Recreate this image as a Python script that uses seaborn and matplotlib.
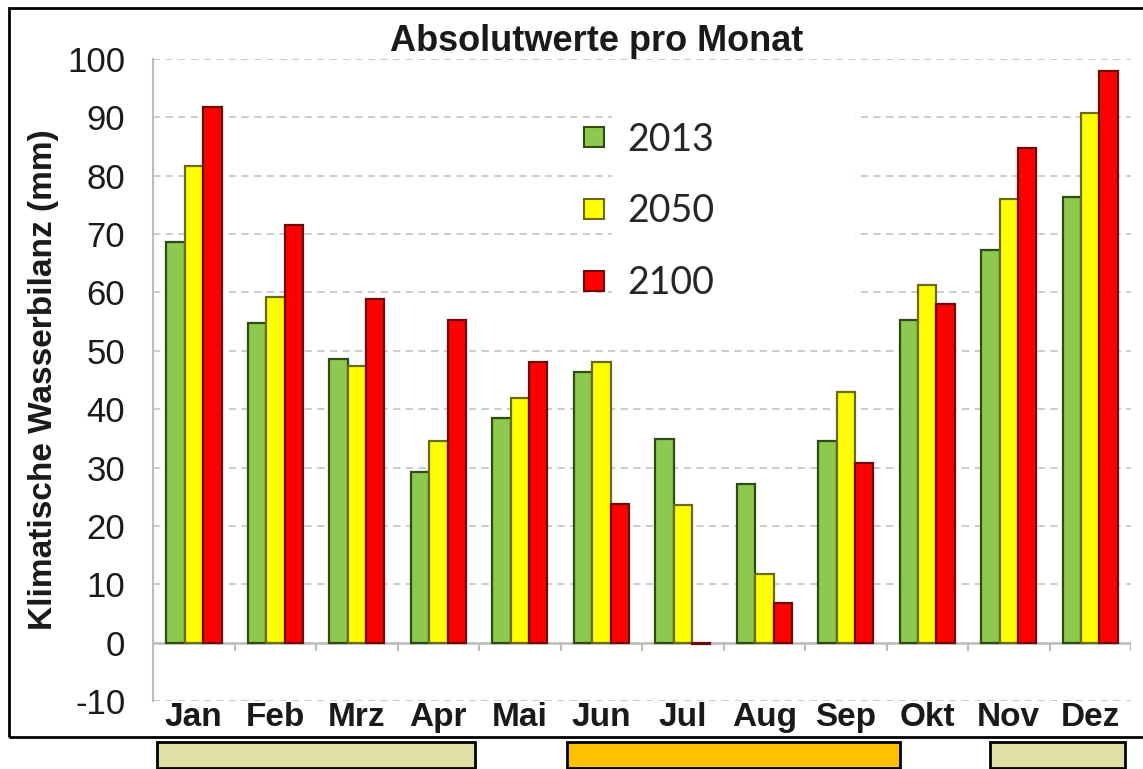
import matplotlib
matplotlib.use("Agg")
import matplotlib.pyplot as plt
import matplotlib.transforms as mtransforms
from matplotlib.patches import Rectangle
from matplotlib.lines import Line2D
import numpy as np
import pandas as pd
import seaborn as sns

# Monatswerte der klimatischen Wasserbilanz (mm)
monate = ["Jan", "Feb", "Mrz", "Apr", "Mai", "Jun",
          "Jul", "Aug", "Sep", "Okt", "Nov", "Dez"]
jahre = ["2013", "2050", "2100"]
werte_2013 = [68.7, 54.8, 48.6, 29.2, 38.5, 46.3, 34.9, 27.1, 34.6, 55.3, 67.3, 76.3]
werte_2050 = [81.7, 59.2, 47.4, 34.5, 42.0, 48.0, 23.5, 11.8, 42.9, 61.3, 76.0, 90.8]
werte_2100 = [91.7, 71.5, 58.9, 55.2, 48.0, 23.7, -0.3, 6.8, 30.8, 58.0, 84.8, 98.0]

# Jahreszeiten-Balken unter dem Diagramm (Start/Ende in Monatsindex)
saison_start = [-0.45, 4.58, 9.77]
saison_ende = [3.45, 8.67, 11.43]
saison_farben = ["#E0DFA6", "#FFC000", "#E0DFA6"]

farben = {"2013": "#8DC84F", "2050": "#FFFF00", "2100": "#FF0000"}
kanten = {"2013": "#2F4A12", "2050": "#6A6A12", "2100": "#6E0A0A"}

df = pd.DataFrame({
    "Monat": monate * 3,
    "Jahr": [j for j in jahre for _ in monate],
    "Wert": werte_2013 + werte_2050 + werte_2100,
})

sns.set_style("white")
plt.rcParams["font.family"] = ["Liberation Sans", "DejaVu Sans"]
plt.rcParams["axes.unicode_minus"] = False

fig = plt.figure(figsize=(11.43, 7.69), dpi=100)
ax = fig.add_axes([0.1339, 0.0884, 0.8556, 0.8349])

sns.barplot(data=df, x="Monat", y="Wert", hue="Jahr", order=monate,
            hue_order=jahre, palette=farben, saturation=1, width=0.68,
            errorbar=None, legend=False, ax=ax, zorder=3)
for jahr, cont in zip(jahre, ax.containers):
    for bar in cont:
        bar.set_edgecolor(kanten[jahr])
        bar.set_linewidth(1.6)

ax.set_ylim(-10, 100)
ax.set_xlim(-0.5, len(monate) - 0.5)
ax.set_yticks(np.arange(-10, 101, 10))
ax.yaxis.grid(True, linestyle=(0, (4, 3)), color="#C8C8C8", linewidth=1.3, zorder=0)
ax.xaxis.grid(False)
ax.set_axisbelow(True)

for side in ["top", "right", "bottom"]:
    ax.spines[side].set_visible(False)
ax.spines["left"].set_color("#BDBDBD")
ax.spines["left"].set_linewidth(1.5)

ax.axhline(0, color="#BDBDBD", linewidth=1.8, zorder=2)
ax.vlines(np.arange(-0.5, len(monate)), -1.4, 0, color="#BDBDBD", linewidth=1.5, zorder=2)

ax.tick_params(axis="y", length=8, color="#C8C8C8", labelsize=25, pad=12, labelcolor="#1a1a1a")
ax.tick_params(axis="x", length=0, labelsize=24, pad=1)
for lbl in ax.get_xticklabels():
    lbl.set_fontweight("bold")
    lbl.set_color("#1a1a1a")

ax.set_xlabel("")
ax.set_ylabel("Klimatische Wasserbilanz (mm)", fontsize=24, fontweight="bold",
              color="#1a1a1a", labelpad=6)
ax.set_title("Absolutwerte pro Monat", fontsize=26, fontweight="bold",
             color="#1a1a1a", pad=6, x=0.454)

# weißer Legendenhintergrund
ax.add_patch(Rectangle((0.469, 0.631), 0.249, 0.305, transform=ax.transAxes,
                       facecolor="white", edgecolor="none", zorder=1))
handles = [Line2D([], [], marker="s", linestyle="none", markersize=15,
                  markerfacecolor=farben[j], markeredgecolor=kanten[j],
                  markeredgewidth=1.5, label=j) for j in jahre]
leg = ax.legend(handles=handles, loc="upper left", bbox_to_anchor=(0.401, 0.955),
                frameon=False, prop={"family": "Lato", "size": 27},
                handlelength=0.8, handletextpad=0.5, labelspacing=0.95)
leg.set_zorder(5)

# Rahmen um die Grafik
fig.patches.append(Rectangle((0.0079, 0.0416), 1.05, 0.948, transform=fig.transFigure,
                             facecolor="none", edgecolor="black", linewidth=2))

# Jahreszeiten-Balken
trans = mtransforms.blended_transform_factory(ax.transData, fig.transFigure)
for x0, x1, c in zip(saison_start, saison_ende, saison_farben):
    ax.add_patch(Rectangle((x0, 0.0015), x1 - x0, 0.034, transform=trans,
                           facecolor=c, edgecolor="black", linewidth=2,
                           clip_on=False))

fig.savefig("out.png", dpi=100)
